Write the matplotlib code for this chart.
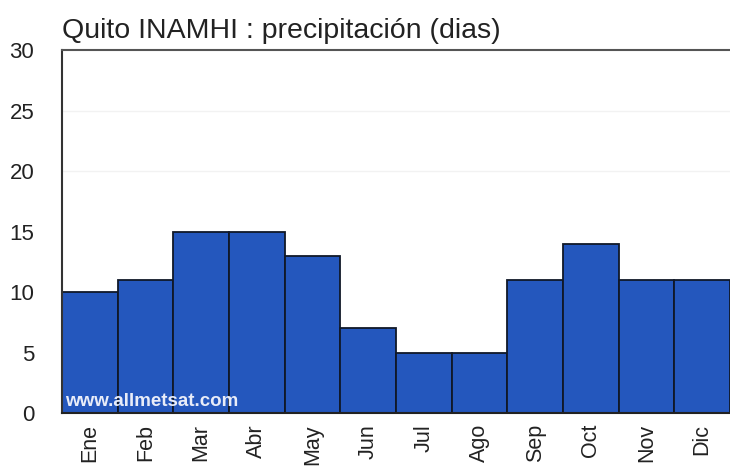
import numpy as np
import matplotlib.pyplot as plt

# Quito INAMHI - dias de precipitacion por mes
meses = ['Ene', 'Feb', 'Mar', 'Abr', 'May', 'Jun',
         'Jul', 'Ago', 'Sep', 'Oct', 'Nov', 'Dic']
dias = [10, 11, 15, 15, 13, 7, 5, 5, 11, 14, 11, 11]
yticks = [0, 5, 10, 15, 20, 25, 30]

plt.rcParams['font.family'] = ['Liberation Sans', 'DejaVu Sans']

fig = plt.figure(figsize=(7.3, 4.68), dpi=100)
ax = fig.add_axes([0.085, 0.1175, 0.915, 0.7755])

x = np.arange(len(meses))
ax.bar(x, dias, width=1.0, color='#2457bd', edgecolor='#101828', linewidth=1.3, zorder=2)

# faint grid like the original
for v in [20, 25]:
    ax.axhline(v, color='#f2f2f2', lw=1, zorder=1)

ax.set_xlim(-0.5, 11.5)
ax.set_ylim(0, 30)
ax.set_xticks(x)
ax.set_xticklabels(meses, rotation=90, fontsize=15.5, color='#222222')
ax.set_yticks(yticks)
ax.set_yticklabels([str(v) for v in yticks], fontsize=16, color='#222222')
ax.tick_params(axis='both', length=0, pad=8)
ax.tick_params(axis='y', pad=20)

ax.spines['right'].set_visible(False)
ax.spines['left'].set_color('#333333')
ax.spines['left'].set_linewidth(1.5)
ax.spines['bottom'].set_color('#222222')
ax.spines['bottom'].set_linewidth(1.5)
ax.spines['top'].set_color('#555555')
ax.spines['top'].set_linewidth(1.5)

ax.text(0.004, 0.008, 'www.allmetsat.com', transform=ax.transAxes, color='#e8ecf8',
        fontsize=13.5, fontweight='bold', ha='left', va='bottom', zorder=3)

fig.text(0.085, 0.905, 'Quito INAMHI : precipitación (dias)', fontsize=20.5,
         color='#222222', ha='left', va='bottom')

fig.savefig('out.png', dpi=100)
